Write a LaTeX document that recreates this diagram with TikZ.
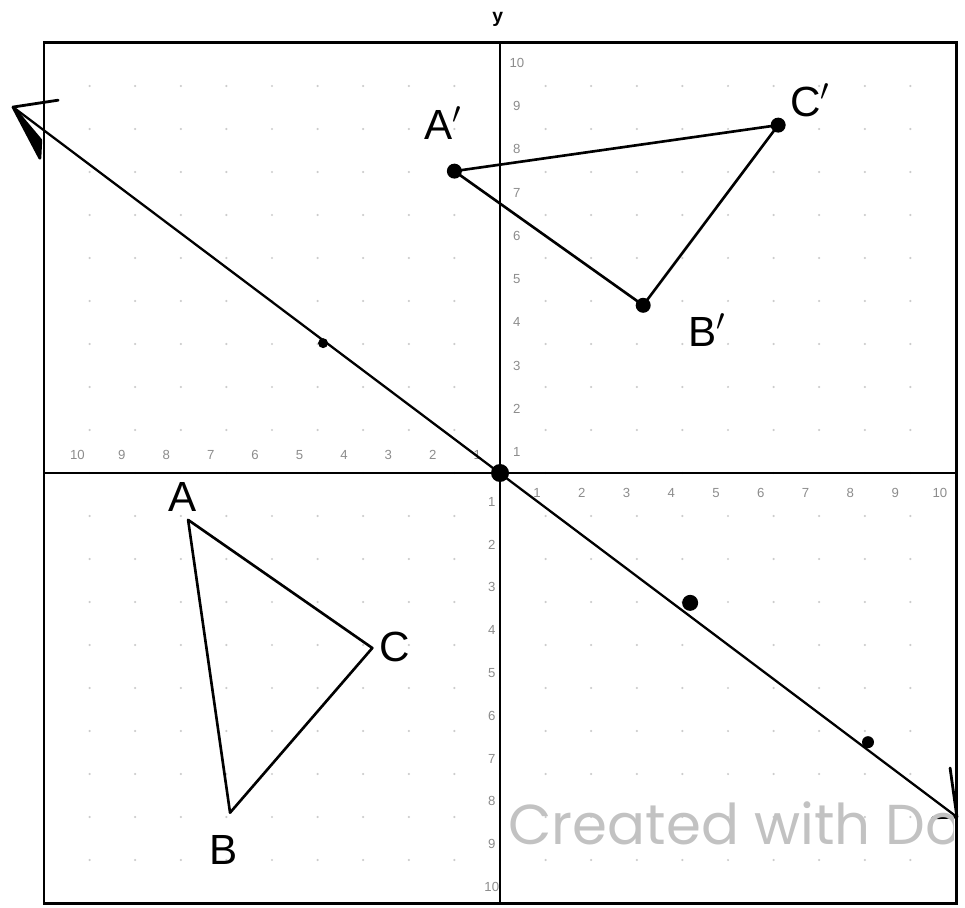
\documentclass[tikz,border=0pt]{standalone}
\usepackage{fontspec}
\setsansfont{Liberation Sans}
\newfontfamily\markfont{Poppins}
\usetikzlibrary{arrows.meta,positioning}
\definecolor{tickgray}{HTML}{8C8C8C}

\begin{document}
\begin{tikzpicture}[
  x=9.12mm, y=8.6mm,
  frame/.style={draw=black, line width=1.7pt},
  griddot/.style={fill=black!20},
  axis/.style={draw=black, line width=1.5pt},
  tri/.style={draw=black, line width=1.5pt, line join=round},
  mirror/.style={draw=black, line width=1.3pt, line cap=round},
  barb/.style={draw=black, line width=1.6pt, line cap=round, line join=round},
  vdot/.style={circle, fill=black, inner sep=0pt, minimum size=#1},
  vdot/.default=3mm,
  ticklbl/.style={font=\fontsize{7.5}{7.5}\selectfont\sffamily, text=tickgray, inner sep=0pt},
  ptlbl/.style={font=\fontsize{24}{24}\selectfont\sffamily, inner sep=0pt},
]
  \useasboundingbox (-10.965,-10.116) rectangle (10.197,11.0);

  % grid and frame
  \foreach \gx in {-9,...,9}
    \foreach \gy in {-9,...,9}
      \fill[griddot] (\gx,\gy) circle (0.7pt);
  \draw[frame] (-10,-10) rectangle (10,10);
  \draw[axis] (-10,0) -- (10,0);
  \draw[axis] (0,-10) -- (0,10);
  \node[font=\fontsize{11}{11}\selectfont\sffamily\bfseries, inner sep=0pt] (ylab) at (-0.05,10.55) {y};

  % tick numbers
  \foreach \k in {1,...,10} {
    \node[ticklbl] at ({-0.5-0.974*(\k-1)},0.42) {\k};
    \node[ticklbl] at ({0.81+0.982*(\k-1)},-0.47) {\k};
    \node[ticklbl] at (0.37,{0.49+1.005*(\k-1)}) {\k};
    \node[ticklbl] at (-0.18,{-0.67-0.995*(\k-1)}) {\k};
  }

  % line of reflection
  \coordinate (tipNW) at (-10.68,8.51);
  \coordinate (tipSE) at (10.02,-8.0);
  \draw[mirror] (tipNW) -- (tipSE);
  \draw[barb] (tipNW) -- ++(0.99,0.16);
  \draw[barb, fill=black] (tipNW) -- ++(0.59,-1.19) -- ++(0.02,0.42) -- cycle;
  \draw[barb] (tipSE) -- ++(-0.15,1.14);
  \draw[barb] (tipSE) -- ++(-0.53,-0.02);
  \node[vdot=3.6mm] (O) at (0,0) {};
  \node[vdot=2mm] (m1) at (-3.88,3.02) {};
  \node[vdot=3.2mm] (m2) at (4.17,-3.02) {};
  \node[vdot=2.4mm] (m3) at (8.07,-6.26) {};

  % image triangle
  \node[vdot] (A1) at (-1,7.02) {};
  \node[vdot] (B1) at (3.14,3.9) {};
  \node[vdot] (C1) at (6.1,8.09) {};
  \draw[tri] (A1.center) -- (C1.center) -- (B1.center) -- cycle;
  \node[ptlbl] (lA1) at (-1.25,8.14) {A$'$};
  \node[ptlbl] (lB1) at (4.54,3.33) {B$'$};
  \node[ptlbl] (lC1) at (6.8,8.67) {C$'$};

  % original triangle
  \coordinate (A) at (-6.84,-1.09);
  \coordinate (B) at (-5.92,-7.9);
  \coordinate (C) at (-2.8,-4.07);
  \draw[tri] (A) -- (B) -- (C) -- cycle;
  \node[ptlbl] (lA) at (-6.97,-0.56) {A};
  \node[ptlbl] (lB) at (-6.07,-8.77) {B};
  \node[ptlbl] (lC) at (-2.3,-4.05) {C};

  % watermark
  \begin{scope}
    \clip (-10,-10) rectangle (9.95,10);
    \node[anchor=base west, inner sep=0pt, text=black!24,
      font=\fontsize{32}{32}\selectfont\markfont] (mark) at (0.18,-8.65) {Created with Do};
  \end{scope}
\end{tikzpicture}
\end{document}
